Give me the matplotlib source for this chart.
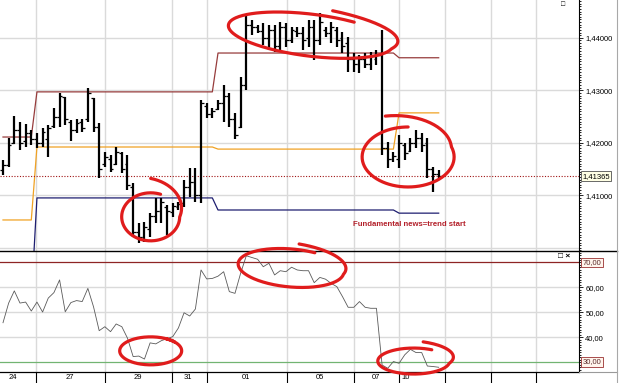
import numpy as np
import matplotlib.pyplot as plt
import matplotlib.transforms as mtrans
from matplotlib.lines import Line2D
from matplotlib.ticker import MultipleLocator, FixedLocator

plt.rcParams['font.family'] = ['Liberation Sans', 'DejaVu Sans']

# ===== price bars (OHLC) =====
opens = [1.4148, 1.4158, 1.4200, 1.4224, 1.4203, 1.4219, 1.4207, 1.4200, 1.4207, 1.4232,
         1.4249, 1.4287, 1.4240, 1.4224, 1.4240, 1.4245, 1.4285, 1.4230, 1.4160, 1.4170,
         1.4160, 1.4180, 1.4160, 1.4115, 1.4030, 1.4020, 1.4035, 1.4060, 1.4070, 1.4078,
         1.4068, 1.4078, 1.4085, 1.4115, 1.4125, 1.4100, 1.4270, 1.4255, 1.4265, 1.4275,
         1.4290, 1.4245, 1.4230, 1.4310, 1.4425, 1.4420, 1.4412, 1.4400, 1.4415, 1.4385,
         1.4420, 1.4395, 1.4412, 1.4410, 1.4400, 1.4420, 1.4395, 1.4415, 1.4410, 1.4415,
         1.4400, 1.4390, 1.4360, 1.4350, 1.4360, 1.4350, 1.4360, 1.4367, 1.4190, 1.4170,
         1.4170, 1.4195, 1.4185, 1.4200, 1.4210, 1.4200, 1.4150, 1.4140]
highs = [1.4167, 1.4209, 1.4251, 1.4240, 1.4236, 1.4224, 1.4219, 1.4228, 1.4234, 1.4266,
         1.4295, 1.4287, 1.4243, 1.4245, 1.4245, 1.4304, 1.4285, 1.4238, 1.4182, 1.4177,
         1.4192, 1.4182, 1.4177, 1.4123, 1.4047, 1.4049, 1.4066, 1.4095, 1.4095, 1.4081,
         1.4085, 1.4087, 1.4129, 1.4152, 1.4152, 1.4282, 1.4276, 1.4266, 1.4282, 1.4310,
         1.4295, 1.4257, 1.4325, 1.4443, 1.4434, 1.4424, 1.4428, 1.4424, 1.4424, 1.4430,
         1.4428, 1.4421, 1.4421, 1.4421, 1.4434, 1.4434, 1.4447, 1.4421, 1.4430, 1.4421,
         1.4411, 1.4402, 1.4371, 1.4367, 1.4371, 1.4373, 1.4377, 1.4415, 1.4202, 1.4182,
         1.4215, 1.4200, 1.4209, 1.4224, 1.4219, 1.4209, 1.4154, 1.4148]
lows = [1.4139, 1.4154, 1.4198, 1.4186, 1.4192, 1.4196, 1.4190, 1.4192, 1.4173, 1.4228,
        1.4230, 1.4234, 1.4203, 1.4219, 1.4221, 1.4240, 1.4221, 1.4133, 1.4154, 1.4144,
        1.4158, 1.4142, 1.4110, 1.4020, 1.4009, 1.4011, 1.4020, 1.4047, 1.4047, 1.4024,
        1.4059, 1.4072, 1.4078, 1.4097, 1.4087, 1.4085, 1.4247, 1.4247, 1.4262, 1.4240,
        1.4230, 1.4207, 1.4228, 1.4301, 1.4405, 1.4409, 1.4386, 1.4377, 1.4373, 1.4373,
        1.4382, 1.4390, 1.4402, 1.4377, 1.4382, 1.4358, 1.4386, 1.4402, 1.4390, 1.4382,
        1.4371, 1.4335, 1.4335, 1.4333, 1.4342, 1.4339, 1.4348, 1.4177, 1.4152, 1.4163,
        1.4152, 1.4167, 1.4182, 1.4190, 1.4182, 1.4133, 1.4106, 1.4133]
closes = [1.4158, 1.4196, 1.4224, 1.4200, 1.4219, 1.4207, 1.4200, 1.4221, 1.4228, 1.4249,
          1.4290, 1.4245, 1.4224, 1.4238, 1.4228, 1.4295, 1.4230, 1.4150, 1.4173, 1.4150,
          1.4182, 1.4150, 1.4120, 1.4030, 1.4020, 1.4040, 1.4060, 1.4070, 1.4087, 1.4070,
          1.4080, 1.4083, 1.4115, 1.4125, 1.4100, 1.4275, 1.4255, 1.4260, 1.4275, 1.4290,
          1.4245, 1.4215, 1.4310, 1.4425, 1.4420, 1.4412, 1.4400, 1.4415, 1.4385, 1.4420,
          1.4395, 1.4415, 1.4410, 1.4395, 1.4420, 1.4395, 1.4430, 1.4410, 1.4420, 1.4395,
          1.4385, 1.4360, 1.4350, 1.4360, 1.4350, 1.4365, 1.4367, 1.4190, 1.4170, 1.4175,
          1.4200, 1.4180, 1.4200, 1.4210, 1.4195, 1.4150, 1.4140, 1.41365]
last_price = 1.41365

# ===== RSI =====
rsi = [45.8, 53.7, 58.6, 53.7, 54.1, 50.5, 54.1, 50.1, 55.7, 57.9,
       63.0, 50.2, 53.9, 54.7, 54.3, 59.6, 52.2, 42.6, 44.2, 42.2,
       45.3, 44.2, 39.6, 32.2, 32.4, 31.2, 37.7, 37.3, 38.6, 39.4,
       40.2, 43.7, 49.8, 48.5, 51.3, 67.0, 63.4, 63.6, 64.5, 66.3,
       58.3, 57.6, 65.7, 72.7, 72.0, 71.3, 68.3, 69.7, 65.0, 66.7,
       66.3, 68.1, 67.0, 66.7, 66.7, 61.9, 64.0, 63.3, 61.6, 60.3,
       56.3, 52.0, 52.0, 54.3, 52.0, 51.6, 51.6, 28.8, 27.5, 30.2,
       29.5, 32.9, 35.1, 33.8, 33.8, 28.4, 28.2, 27.9]
rsi_hi, rsi_lo = 70, 30

# ===== daily levels (bar index where each session starts) =====
session_start = [0, 6, 38, 70]
upper_lvl = [1.4211, 1.4297, 1.4371, 1.4362]
mid_lvl = [1.4053, 1.4192, 1.4188, 1.4257]
lower_lvl = [1.3900, 1.4095, 1.4072, 1.4066]

# ===== time axis =====
day_bounds = [5.83, 18.02, 29.86, 36.04, 50.18, 62.01, 69.96, 78.09, 86.22, 94.17]
day_labels = ['24', '27', '29', '31', '01', '05', '07', '10']
day_label_pos = [1.82, 11.84, 23.9, 32.74, 42.93, 56.0, 65.9, 71.2]
price_ticks = [1.41, 1.42, 1.43, 1.44]
price_grid = [1.40, 1.41, 1.42, 1.43, 1.44]
rsi_ticks = [40, 50, 60]

# freehand red loops: panel, centre (bar, value), radii px, tilt, start angle, start scale
loop_panel = ['p', 'p', 'p', 'r', 'r', 'r']
loop_x = [26.1, 54.4, 71.6, 26.1, 50.9, 72.6]
loop_y = [1.4059, 1.4405, 1.4173, 34.5, 67.8, 30.4]
loop_rx = [29, 83, 46, 31, 53, 36]
loop_ry = [24, 21, 30, 14, 19, 13]
loop_tilt = [0, 7, 0, 0, 5, 0]
loop_t0 = [-90, -80, -110, -60, -85, -80]
loop_s0 = [1.6, 1.3, 1.45, 1.0, 1.3, 1.5]
note_text = 'Fundamental news=trend start'
note_pos = (61.8, 1.4045)

W, H = 625, 383
fig = plt.figure(figsize=(W / 100, H / 100), dpi=100)


def px_rect(x0, y0, x1, y1):
    return [x0 / W, 1 - y1 / H, (x1 - x0) / W, (y1 - y0) / H]


ax = fig.add_axes(px_rect(0, 0, 579, 251))
ax_r = fig.add_axes(px_rect(0, 251, 579, 372))
ax_d = fig.add_axes(px_rect(0, 372, 579, 383))
xlim = (-0.53, 101.8)
grid_c = '#dadada'

# ----- price panel -----
idx = np.arange(len(closes))
for b in day_bounds:
    ax.axvline(b, color=grid_c, lw=1.0, zorder=0)
for g in price_grid:
    ax.axhline(g, color=grid_c, lw=1.0, zorder=0)

counts = np.diff(session_start + [len(closes)])
ax.plot(idx, np.repeat(upper_lvl, counts), color='#973c3c', lw=0.9)
ax.plot(idx, np.repeat(mid_lvl, counts), color='#f0a224', lw=0.9)
ax.plot(idx, np.repeat(lower_lvl, counts), color='#1e1e70', lw=0.9)
ax.axhline(last_price, color='#a01515', lw=0.8, ls=(0, (1, 1.5)))

ax.vlines(idx, lows, highs, color='black', lw=1.6, zorder=3)
ax.hlines(opens, idx - 0.5, idx, color='black', lw=0.9, zorder=3)
ax.hlines(closes, idx, idx + 0.5, color='black', lw=0.9, zorder=3)

ax.set_xlim(*xlim)
ax.set_ylim(1.39939, 1.4472)
ax.set_xticks([])
ax.yaxis.tick_right()
ax.yaxis.set_major_locator(FixedLocator(price_ticks))
ax.yaxis.set_minor_locator(MultipleLocator(0.0005))
ax.set_yticklabels([f'{v:.5f}'.replace('.', ',') for v in price_ticks])
ax.tick_params(axis='y', which='major', length=3, width=0.6, labelsize=5.5, pad=1.5)
ax.tick_params(axis='y', which='minor', length=1.5, width=0.6)
for s in ['left', 'top', 'bottom']:
    ax.spines[s].set_visible(False)
ax.spines['right'].set_linewidth(0.8)

blend = mtrans.blended_transform_factory(ax.transAxes, ax.transData)
ax.text(1.006, last_price, f'{last_price:.5f}'.replace('.', ','), transform=blend,
        fontsize=5.5, va='center', ha='left',
        bbox=dict(boxstyle='square,pad=0.18', fc='#ffffe4', ec='#505050', lw=0.6))
ax.text(note_pos[0], note_pos[1], note_text, color='#b3202a', fontsize=5.6,
        fontweight='bold', va='center', ha='left')
ax.text(0.972, 0.997, '\u25a1', transform=ax.transAxes, fontsize=5, va='top', ha='center')

# ----- RSI panel -----
for b in day_bounds:
    ax_r.axvline(b, color=grid_c, lw=1.0, zorder=0)
for g in rsi_ticks:
    ax_r.axhline(g, color=grid_c, lw=1.0, zorder=0)
ax_r.axhline(rsi_hi, color='#8e2424', lw=0.9)
ax_r.axhline(rsi_lo, color='#72b472', lw=0.9)
ax_r.plot(idx, rsi, color='#5a5a5a', lw=0.6)
ax_r.set_xlim(*xlim)
ax_r.set_ylim(26.0, 74.62)
ax_r.set_xticks([])
ax_r.yaxis.tick_right()
ax_r.yaxis.set_major_locator(FixedLocator(rsi_ticks))
ax_r.yaxis.set_minor_locator(MultipleLocator(1))
ax_r.set_yticklabels([f'{v:.2f}'.replace('.', ',') for v in rsi_ticks])
ax_r.tick_params(axis='y', which='major', length=3, width=0.6, labelsize=5.5, pad=1.5)
ax_r.tick_params(axis='y', which='minor', length=1.5, width=0.6)
for s in ['left', 'top']:
    ax_r.spines[s].set_visible(False)
ax_r.spines['right'].set_linewidth(0.8)
ax_r.spines['bottom'].set_linewidth(0.9)
blend_r = mtrans.blended_transform_factory(ax_r.transAxes, ax_r.transData)
for lv in [rsi_hi, rsi_lo]:
    ax_r.text(1.006, lv, f'{lv:.2f}'.replace('.', ','), transform=blend_r,
              fontsize=5.5, va='center', ha='left', color='#5a2a2a',
              bbox=dict(boxstyle='square,pad=0.18', fc='#fff4ec', ec='#9a3030', lw=0.6))
ax_r.text(0.975, 0.955, '\u25a1 \u00d7', transform=ax_r.transAxes, fontsize=6,
          va='center', ha='center', fontweight='bold')

# ----- date strip -----
ax_d.set_xlim(*xlim)
ax_d.set_ylim(0, 1)
ax_d.axis('off')
ax_d.vlines(day_bounds, 0, 1, color='black', lw=0.8)
for lab, pos in zip(day_labels, day_label_pos):
    ax_d.text(pos, 0.5, lab, fontsize=5.5, ha='center', va='center')

# ----- frame lines of the window -----
fig.add_artist(Line2D([0, 617 / W], [1 - 251 / H] * 2, color='black', lw=1.0))
fig.add_artist(Line2D([579 / W, 617 / W], [1 - 372 / H] * 2, color='#9a9a9a', lw=0.8))
fig.add_artist(Line2D([617 / W] * 2, [0, 1], color='#a8a8a8', lw=0.8))

# ----- hand drawn red loops -----
for i in range(len(loop_x)):
    a_ = ax if loop_panel[i] == 'p' else ax_r
    cx, cy = a_.transData.transform((loop_x[i], loop_y[i]))
    t = np.radians(np.linspace(loop_t0[i], loop_t0[i] + 380, 240))
    s = 1 + (loop_s0[i] - 1) * np.clip(1 - (t - t[0]) / (np.pi / 2), 0, 1)
    ex = loop_rx[i] * s * np.cos(t)
    ey = loop_ry[i] * s * np.sin(t)
    a = np.radians(loop_tilt[i])
    dx = ex * np.cos(a) - ey * np.sin(a)
    dy = ex * np.sin(a) + ey * np.cos(a)
    fig.add_artist(Line2D((cx + dx) / W, (cy - dy) / H, color='#e01c1c', lw=2.3,
                          solid_capstyle='round', solid_joinstyle='round'))

fig.savefig('out.png', dpi=100)
